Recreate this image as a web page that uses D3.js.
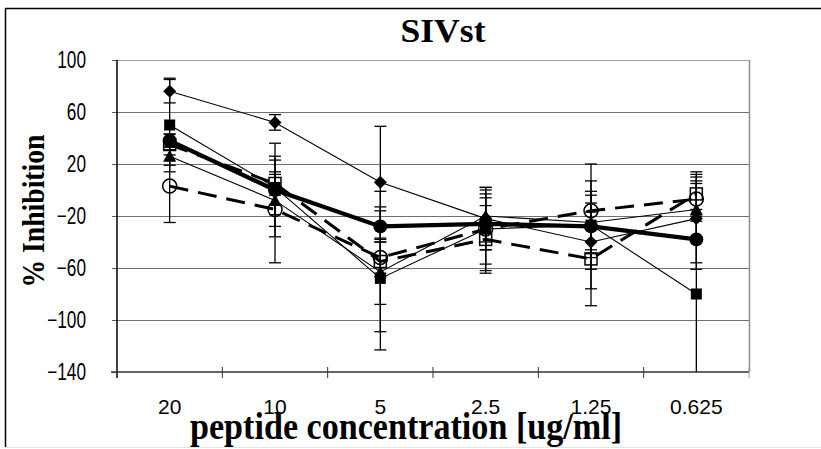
<!DOCTYPE html>
<html>
<head>
<meta charset="utf-8">
<script src="https://cdn.jsdelivr.net/npm/d3@7"></script>
<style>
  body { margin: 0; background: #fff; }
  svg { display: block; }
</style>
</head>
<body>
<div id="chart"></div>
<script>
// concentrations along the x axis (ug/ml)
const concentrations = ["20", "10", "5", "2.5", "1.25", "0.625"];
const yTicks = [100, 60, 20, -20, -60, -100, -140];

// % inhibition per series, with error (+/-)
const diamondVals = [76, 52, 6, -22, -40, -22];
const diamondErr = [9, 6, 43, 24, 36, 34];
const squareVals = [50, 2, -68, -30, -27, -80];
const squareErr = [36, 21, 55, 27, 34, 85];
const triangleVals = [26, -8, -63, -20, -25, -15];
const triangleErr = [7, 20, 25, 20, 24, 22];
const circleVals = [38, 0, -28, -26, -28, -38];
const circleErr = [5, 36, 12, 20, 18, 23];
const openCircleVals = [3, -15, -52, -30, -16, -7];
const openCircleErr = [28, 41, 12, 32, 36, 17];
const openSquareVals = [35, 5, -55, -38, -53, -3];
const openSquareErr = [8, 9, 54, 26, 36, 17];

const W = 821, H = 449;
const plot = { left: 117, right: 749, top: 60, bottom: 372 };

const svg = d3.select("#chart").append("svg")
    .attr("width", W).attr("height", H);

// chart area frame
svg.append("line").attr("x1", 5.5).attr("y1", 8.5).attr("x2", 5.5).attr("y2", 447)
    .attr("stroke", "#000").attr("stroke-width", 1.5);
svg.append("line").attr("x1", 5).attr("y1", 8.5).attr("x2", W).attr("y2", 8.5)
    .attr("stroke", "#000").attr("stroke-width", 1.5);
svg.append("line").attr("x1", 5).attr("y1", 447.5).attr("x2", W).attr("y2", 447.5)
    .attr("stroke", "#e4e4e4").attr("stroke-width", 1);

const x = d3.scaleBand().domain(concentrations).range([plot.left, plot.right]).padding(0);
const y = d3.scaleLinear().domain([-140, 100]).range([plot.bottom, plot.top]);
const cx = c => x(c) + x.bandwidth() / 2;

// gridlines
svg.append("g").selectAll("line").data(yTicks.filter(t => t > -140)).enter().append("line")
    .attr("x1", plot.left).attr("x2", plot.right)
    .attr("y1", d => y(d) + 0.5).attr("y2", d => y(d) + 0.5)
    .attr("stroke", d => d === 100 ? "#a0a0a0" : "#707070").attr("stroke-width", 1.2);
svg.append("line").attr("x1", plot.right + 0.5).attr("x2", plot.right + 0.5)
    .attr("y1", plot.top).attr("y2", plot.bottom)
    .attr("stroke", "#909090").attr("stroke-width", 1.5);

// y axis
const yAxis = svg.append("g").attr("transform", `translate(${plot.left},0)`)
    .call(d3.axisLeft(y).tickValues(yTicks).tickSize(5).tickPadding(26).tickFormat(d3.format("d")));
yAxis.select(".domain").remove();
yAxis.selectAll(".tick line").attr("stroke", "#555");
yAxis.selectAll("text").attr("font-family", "Liberation Sans, Arial, sans-serif")
    .attr("font-size", 23).attr("fill", "#000")
    .each(function () {
        const len = this.getComputedTextLength();
        d3.select(this).attr("textLength", len * 0.75).attr("lengthAdjust", "spacingAndGlyphs");
    });
svg.append("line").attr("x1", plot.left).attr("x2", plot.left)
    .attr("y1", plot.top).attr("y2", plot.bottom + 6)
    .attr("stroke", "#000").attr("stroke-width", 1.5);

// x axis
const xAxis = svg.append("g").attr("transform", `translate(0,${plot.bottom})`)
    .call(d3.axisBottom(x).tickSize(0).tickPadding(27));
xAxis.select(".domain").remove();
xAxis.selectAll("text").attr("font-family", "Liberation Sans, Arial, sans-serif")
    .attr("font-size", 21).attr("fill", "#000");
svg.append("line").attr("x1", plot.left - 6).attr("x2", plot.right)
    .attr("y1", plot.bottom).attr("y2", plot.bottom)
    .attr("stroke", "#333").attr("stroke-width", 1.6);
const bounds = concentrations.map(c => x(c)).concat([plot.right]);
svg.append("g").selectAll("line").data(bounds.slice(1)).enter().append("line")
    .attr("x1", d => d).attr("x2", d => d)
    .attr("y1", plot.bottom - 5).attr("y2", plot.bottom + 6)
    .attr("stroke", (d, i) => i === bounds.length - 2 ? "#999" : "#333").attr("stroke-width", 1);

// series
const diamond = s => `M0,${-s}L${s},0L0,${s}L${-s},0Z`;
const series = [
    { vals: diamondVals, err: diamondErr, width: 1.1, dash: null, marker: "diamond" },
    { vals: squareVals, err: squareErr, width: 1.1, dash: null, marker: "square" },
    { vals: triangleVals, err: triangleErr, width: 1.1, dash: null, marker: "triangle" },
    { vals: openCircleVals, err: openCircleErr, width: 3, dash: "19,10", marker: "openCircle" },
    { vals: openSquareVals, err: openSquareErr, width: 3, dash: "19,10", marker: "openSquare" },
    { vals: circleVals, err: circleErr, width: 4.2, dash: null, marker: "circle" }
];

svg.append("clipPath").attr("id", "plotClip").append("rect")
    .attr("x", plot.left).attr("y", plot.top - 20)
    .attr("width", plot.right - plot.left).attr("height", plot.bottom - plot.top + 20);

const layer = svg.append("g").attr("clip-path", "url(#plotClip)");
const line = d3.line().x(d => cx(d.c)).y(d => y(d.v));

series.forEach(s => {
    const pts = concentrations.map((c, i) => ({ c, v: s.vals[i], e: s.err[i] }));
    const g = layer.append("g");

    // error bars
    const eb = g.append("g").selectAll("g").data(pts).enter().append("g")
        .attr("stroke", "#000").attr("stroke-width", 1.3);
    eb.append("line").attr("x1", d => cx(d.c)).attr("x2", d => cx(d.c))
        .attr("y1", d => y(d.v + d.e)).attr("y2", d => y(d.v - d.e));
    eb.append("line").attr("x1", d => cx(d.c) - 6).attr("x2", d => cx(d.c) + 6)
        .attr("y1", d => y(d.v + d.e)).attr("y2", d => y(d.v + d.e));
    eb.append("line").attr("x1", d => cx(d.c) - 6).attr("x2", d => cx(d.c) + 6)
        .attr("y1", d => y(d.v - d.e)).attr("y2", d => y(d.v - d.e));

    g.append("path").datum(pts).attr("d", line)
        .attr("fill", "none").attr("stroke", "#000")
        .attr("stroke-width", s.width).attr("stroke-dasharray", s.dash);

    const m = g.append("g").selectAll("g").data(pts).enter().append("g")
        .attr("transform", d => `translate(${cx(d.c)},${y(d.v)})`);
    if (s.marker === "diamond") {
        m.append("path").attr("d", diamond(6.5)).attr("fill", "#000");
    } else if (s.marker === "square") {
        m.append("rect").attr("x", -5.5).attr("y", -5.5).attr("width", 11).attr("height", 11).attr("fill", "#000");
    } else if (s.marker === "triangle") {
        m.append("path").attr("d", "M0,-6.5L6.5,5.5L-6.5,5.5Z").attr("fill", "#000");
    } else if (s.marker === "circle") {
        m.append("circle").attr("r", 7).attr("fill", "#000");
    } else if (s.marker === "openCircle") {
        m.append("circle").attr("r", 7).attr("fill", "none").attr("stroke", "#000").attr("stroke-width", 1.5);
    } else if (s.marker === "openSquare") {
        m.append("rect").attr("x", -6).attr("y", -6).attr("width", 12).attr("height", 12)
            .attr("fill", "none").attr("stroke", "#000").attr("stroke-width", 1.5);
    }
});

// titles
svg.append("text").attr("x", 443).attr("y", 42).attr("text-anchor", "middle")
    .attr("font-family", "Liberation Serif, Times New Roman, serif").attr("font-weight", "bold")
    .attr("font-size", 34).attr("textLength", 85).attr("lengthAdjust", "spacingAndGlyphs")
    .text("SIVst");

svg.append("text").attr("transform", "translate(44,211) rotate(-90)")
    .attr("text-anchor", "middle")
    .attr("font-family", "Liberation Serif, Times New Roman, serif").attr("font-weight", "bold")
    .attr("font-size", 31).attr("textLength", 153).attr("lengthAdjust", "spacingAndGlyphs")
    .text("% Inhibition");

svg.append("text").attr("x", 406).attr("y", 439).attr("text-anchor", "middle")
    .attr("font-family", "Liberation Serif, Times New Roman, serif").attr("font-weight", "bold")
    .attr("font-size", 37).attr("textLength", 432).attr("lengthAdjust", "spacingAndGlyphs")
    .text("peptide concentration [ug/ml]");
</script>
</body>
</html>
